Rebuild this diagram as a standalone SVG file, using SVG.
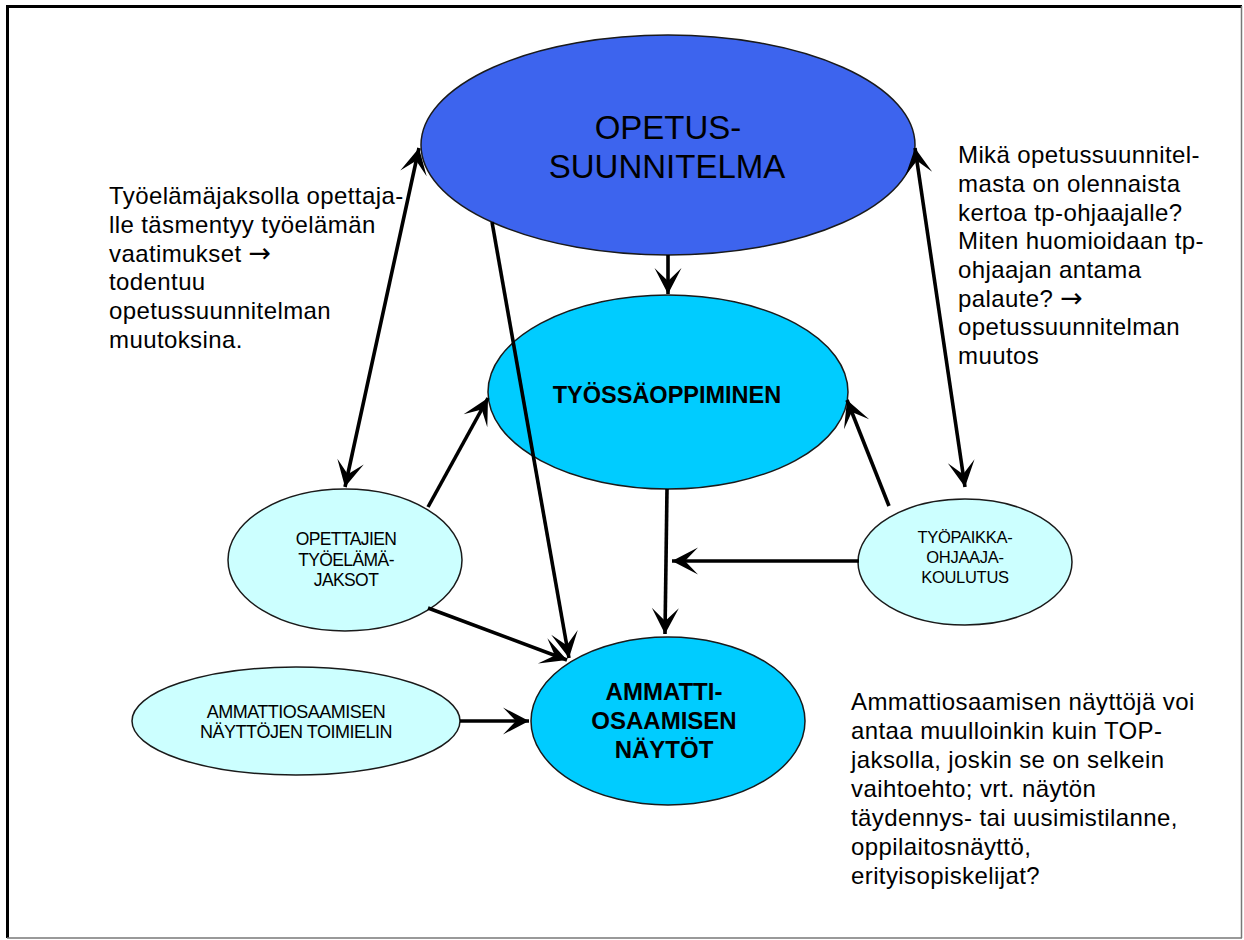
<svg xmlns="http://www.w3.org/2000/svg" width="1244" height="940" viewBox="0 0 1244 940">
<style>
.e{stroke:#1a1a1a;stroke-width:1.5}
.big{fill:#3d64ee}
.mid{fill:#00ccff}
.small{fill:#ccffff}
.c line{stroke:#000;stroke-width:3.6;fill:none}
.t{font-family:"Liberation Sans",Arial,sans-serif;fill:#000}
.note{font-size:24px;letter-spacing:0.4px}
.lbl{text-anchor:middle}
.arr{font-family:"DejaVu Sans",sans-serif;font-size:27px}
</style>
<defs>
<marker id="ah" markerUnits="userSpaceOnUse" viewBox="-30 -17 34 34" markerWidth="34" markerHeight="34" refX="0" refY="0" orient="auto-start-reverse">
<path d="M0,0 L-26,-13.5 L-13,0 L-26,13.5 Z" fill="#000"/>
</marker>
</defs>
<rect width="1244" height="940" fill="#fff"/>
<g id="frame">
<line x1="7" y1="6.5" x2="1242" y2="6.5" stroke="#000" stroke-width="3"/>
<line x1="7.5" y1="5" x2="7.5" y2="938" stroke="#000" stroke-width="3"/>
<line x1="1241.5" y1="6" x2="1241.5" y2="938" stroke="#777" stroke-width="1.5"/>
<line x1="7" y1="938" x2="1242" y2="938" stroke="#777" stroke-width="1.5"/>
</g>
<g id="opetussuunnitelma">
<ellipse class="e big" cx="668" cy="145" rx="247" ry="110"/>
<text class="t lbl" x="668" y="139" font-size="33">OPETUS-</text>
<text class="t lbl" x="667" y="178" font-size="33">SUUNNITELMA</text>
</g>
<g id="tyossaoppiminen">
<ellipse class="e mid" cx="668" cy="392" rx="180" ry="97"/>
<text class="t lbl" x="667" y="403" font-size="23.5" font-weight="bold">TYÖSSÄOPPIMINEN</text>
</g>
<g id="opettajien">
<ellipse class="e small" cx="345" cy="560" rx="117" ry="71"/>
<text class="t lbl" x="346" y="545" font-size="17.5" letter-spacing="-0.6">OPETTAJIEN</text>
<text class="t lbl" x="346" y="566" font-size="17.5" letter-spacing="-0.6">TYÖELÄMÄ-</text>
<text class="t lbl" x="346" y="586" font-size="17.5" letter-spacing="-0.6">JAKSOT</text>
</g>
<g id="tyopaikka">
<ellipse class="e small" cx="965" cy="562" rx="107" ry="63"/>
<text class="t lbl" x="965" y="543" font-size="16.5" letter-spacing="-0.3">TYÖPAIKKA-</text>
<text class="t lbl" x="965" y="563" font-size="16.5" letter-spacing="-0.3">OHJAAJA-</text>
<text class="t lbl" x="965" y="583" font-size="16.5" letter-spacing="-0.3">KOULUTUS</text>
</g>
<g id="ammatti">
<ellipse class="e mid" cx="668" cy="721" rx="137" ry="84"/>
<text class="t lbl" x="664" y="700" font-size="24" font-weight="bold">AMMATTI-</text>
<text class="t lbl" x="664" y="729" font-size="24" font-weight="bold">OSAAMISEN</text>
<text class="t lbl" x="664" y="758" font-size="24" font-weight="bold">NÄYTÖT</text>
</g>
<g id="toimielin">
<ellipse class="e small" cx="296" cy="721" rx="164" ry="54"/>
<text class="t lbl" x="296" y="718" font-size="18" letter-spacing="-0.5">AMMATTIOSAAMISEN</text>
<text class="t lbl" x="296" y="738" font-size="18" letter-spacing="-0.5">NÄYTTÖJEN TOIMIELIN</text>
</g>
<g id="connectors" class="c">
<line x1="419" y1="148" x2="345" y2="487" marker-start="url(#ah)" marker-end="url(#ah)"/>
<line x1="915" y1="148" x2="965" y2="487" marker-start="url(#ah)" marker-end="url(#ah)"/>
<line x1="668" y1="255" x2="668" y2="294" marker-end="url(#ah)"/>
<line x1="492" y1="222" x2="569" y2="658" marker-end="url(#ah)"/>
<line x1="428" y1="507" x2="488" y2="398" marker-end="url(#ah)"/>
<line x1="428" y1="608" x2="567" y2="660" marker-end="url(#ah)"/>
<line x1="667" y1="489" x2="665" y2="634" marker-end="url(#ah)"/>
<line x1="859" y1="561" x2="672" y2="561" marker-end="url(#ah)"/>
<line x1="889" y1="506" x2="847" y2="400" marker-end="url(#ah)"/>
<line x1="460" y1="721" x2="529" y2="721" marker-end="url(#ah)"/>
</g>
<g id="note-left" class="t note">
<text x="109" y="204">Työelämäjaksolla opettaja-</text>
<text x="109" y="233">lle täsmentyy työelämän</text>
<text x="109" y="262">vaatimukset <tspan class="arr">→</tspan></text>
<text x="109" y="290">todentuu</text>
<text x="109" y="319">opetussuunnitelman</text>
<text x="109" y="348">muutoksina.</text>
</g>
<g id="note-right" class="t note">
<text x="958" y="163">Mikä opetussuunnitel-</text>
<text x="958" y="192">masta on olennaista</text>
<text x="958" y="221">kertoa tp-ohjaajalle?</text>
<text x="958" y="249">Miten huomioidaan tp-</text>
<text x="958" y="278">ohjaajan antama</text>
<text x="958" y="307">palaute? <tspan class="arr">→</tspan></text>
<text x="958" y="335">opetussuunnitelman</text>
<text x="958" y="364">muutos</text>
</g>
<g id="note-bottom" class="t note">
<text x="851" y="710">Ammattiosaamisen näyttöjä voi</text>
<text x="851" y="739">antaa muulloinkin kuin TOP-</text>
<text x="851" y="768">jaksolla, joskin se on selkein</text>
<text x="851" y="797">vaihtoehto; vrt. näytön</text>
<text x="851" y="826">täydennys- tai uusimistilanne,</text>
<text x="851" y="855">oppilaitosnäyttö,</text>
<text x="851" y="884">erityisopiskelijat?</text>
</g>
</svg>
